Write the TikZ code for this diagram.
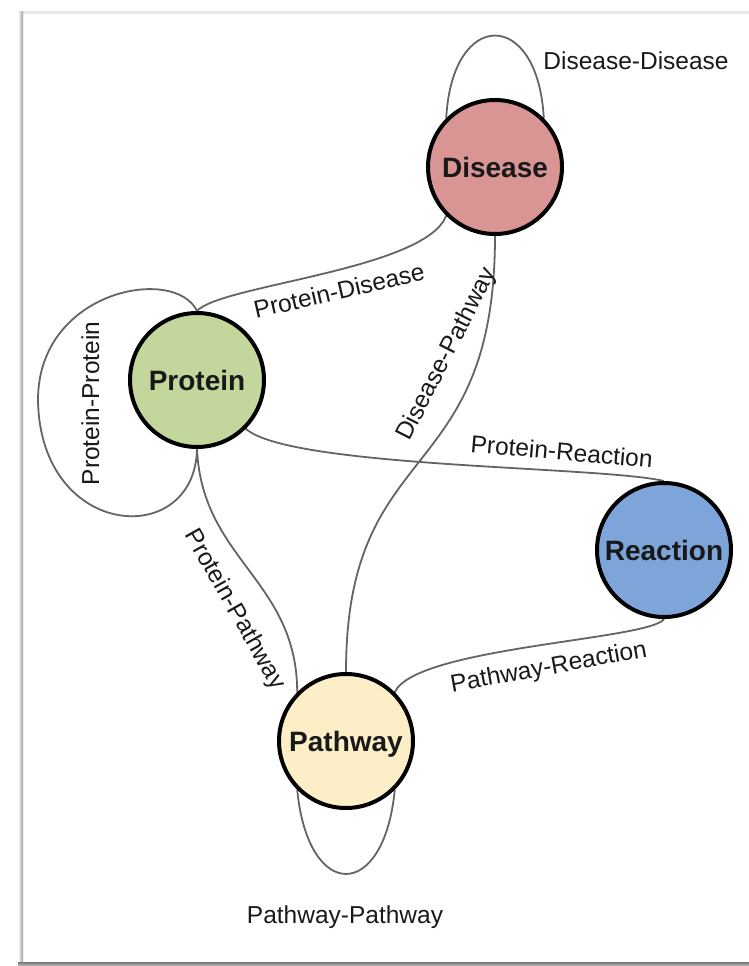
\documentclass[tikz,border=0pt]{standalone}
\usepackage{fontspec}
\setmainfont{Liberation Sans}
\usetikzlibrary{backgrounds}
\definecolor{disfill}{RGB}{217,149,148}
\definecolor{profill}{RGB}{195,214,155}
\definecolor{reafill}{RGB}{125,165,218}
\definecolor{patfill}{RGB}{252,239,200}
\definecolor{edgegray}{RGB}{100,100,100}
\definecolor{labeltext}{RGB}{25,25,25}
\begin{document}
\begin{tikzpicture}[x=1pt,y=1pt,
  ent/.style={circle, draw=black, line width=4pt, minimum size=134pt, inner sep=0pt,
    font=\bfseries\fontsize{28}{30}\selectfont, text=labeltext, text height=20pt, text depth=0pt},
  rel/.style={draw=edgegray, line width=1.8pt},
  elabel/.style={font=\fontsize{24.5}{26}\selectfont, text=labeltext, anchor=base, inner sep=0pt}]
\useasboundingbox (0,0) rectangle (749,-966);
% page frame with shadow
\fill[black!9] (23,-11.5) rectangle (749,-14);
\shade[left color=white, right color=black!40] (18,-12) rectangle (23,-963);
\shade[top color=black!50, bottom color=black!25] (18,-962.5) rectangle (749,-966);

% entities
\node[ent, fill=disfill] (dis) at (495,-167) {Disease};
\node[ent, fill=profill] (pro) at (197,-380) {Protein};
\node[ent, fill=reafill] (rea) at (664,-550) {Reaction};
\node[ent, fill=patfill] (pat) at (346,-741) {Pathway};
\coordinate (ppl) at (38,-400);

% relations
\begin{scope}[on background layer]
\draw[rel] (dis.135) .. controls (452,-8) and (538,-8) .. (dis.45);
\draw[rel] (pro.north) .. controls (220,-285) and (425,-270) .. (dis.225);
\draw[rel] (pro.north) .. controls (175,-265) and (38,-290) .. (ppl)
                        .. controls (40,-540) and (195,-550) .. (pro.south);
\draw[rel] (dis.south) .. controls (495,-490) and (346,-434) .. (pat.north);
\draw[rel] (pro.-45) .. controls (290,-468) and (600,-466) .. (rea.north);
\draw[rel] (pro.south) .. controls (202,-560) and (297,-580) .. (pat.135);
\draw[rel] (pat.45) .. controls (415,-647) and (650,-640) .. (rea.south);
\draw[rel] (pat.225) .. controls (308,-902) and (384,-902) .. (pat.-45);
\end{scope}

% relation labels
\node[elabel] (ldd) at (636,-70) {Disease-Disease};
\node[elabel, rotate=13] (lpd) at (341,-299) {Protein-Disease};
\node[elabel, rotate=90] (lpp) at (99,-403.5) {Protein-Protein};
\node[elabel, rotate=63] (ldp) at (453,-357) {Disease-Pathway};
\node[elabel, rotate=-5] (lpr) at (561,-460) {Protein-Reaction};
\node[elabel, rotate=-60.5] (lppw) at (229,-613) {Protein-Pathway};
\node[elabel, rotate=10.3] (lpwr) at (550,-674.5) {Pathway-Reaction};
\node[elabel] (lpwpw) at (345,-923) {Pathway-Pathway};
\end{tikzpicture}
\end{document}
